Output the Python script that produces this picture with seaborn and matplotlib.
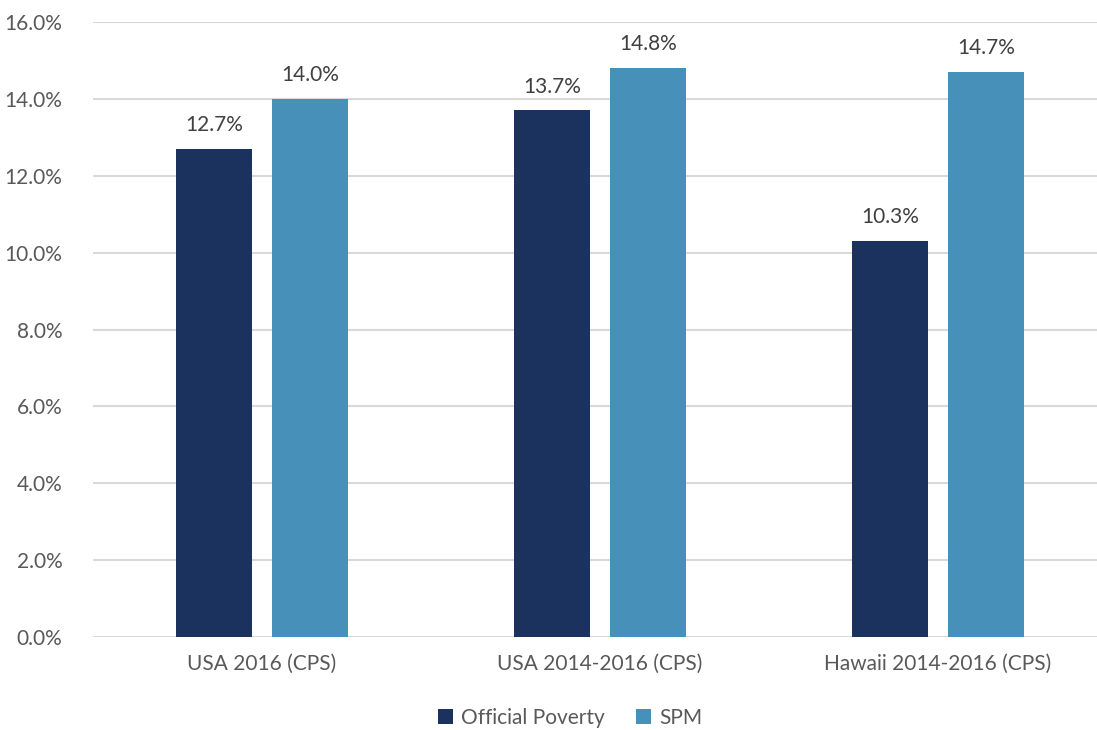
import pandas as pd
import matplotlib.pyplot as plt
import seaborn as sns

# Daten
categories = ['USA 2016 (CPS)', 'USA 2014-2016 (CPS)', 'Hawaii 2014-2016 (CPS)']
official_poverty = [12.7, 13.7, 10.3]
spm = [14.0, 14.8, 14.7]
series_names = ['Official Poverty', 'SPM']
colors = ['#1B315E', '#4690BA']

df = pd.DataFrame({
    'category': categories * 2,
    'series': [series_names[0]] * 3 + [series_names[1]] * 3,
    'value': official_poverty + spm,
})

sns.set_style("white")
plt.rcParams['font.family'] = ['Lato', 'DejaVu Sans']
text_color = '#595959'

fig = plt.figure(figsize=(10.97, 7.3), dpi=100)
ax = fig.add_axes([93 / 1097, 93 / 730, 1014 / 1097, 615 / 730])

sns.barplot(data=df, x='category', y='value', hue='series', palette=colors,
            width=0.568, gap=0.21, saturation=1, linewidth=0, ax=ax, legend=True)

# Beschriftung über den Balken
for container in ax.containers:
    ax.bar_label(container, labels=[f'{v:.1f}%' for v in container.datavalues],
                 padding=10, fontsize=15, color='#404040')

ax.set_xlim(-0.5, 2.5)
ax.set_ylim(0, 16)
ax.set_yticks(range(0, 17, 2))
ax.set_yticklabels([f'{t:.1f}%' for t in range(0, 17, 2)])
ax.yaxis.grid(True, color='#D9D9D9', linewidth=1.5)
ax.set_axisbelow(True)
for s in ax.spines.values():
    s.set_visible(False)
ax.tick_params(axis='both', length=0, labelsize=15, colors=text_color)
ax.tick_params(axis='y', pad=22)
ax.tick_params(axis='x', pad=12)
ax.set_xlabel('')
ax.set_ylabel('')

# Legende unten
handles, labels = ax.get_legend_handles_labels()
ax.legend(handles, labels, loc='center', bbox_to_anchor=(570 / 1097, 12 / 730),
          bbox_transform=fig.transFigure, ncol=2, frameon=False,
          fontsize=15, labelcolor=text_color, handlelength=0.7, handleheight=0.7,
          handletextpad=0.4, columnspacing=1.5)

plt.savefig('out.png', dpi=100)
plt.close()
